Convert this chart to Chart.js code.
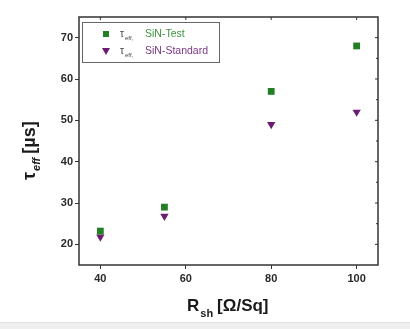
<!DOCTYPE html>
<html>
<head>
<meta charset="utf-8">
<script src="https://cdn.jsdelivr.net/npm/chart.js@4"></script>
<style>
  html, body { margin: 0; padding: 0; background: #fff; }
  #wrap { position: relative; width: 410px; height: 322px; }
  #strip { width: 410px; height: 7px; background: #efefef; border-top: 1px solid #e2e2e2; box-sizing: border-box; }
</style>
</head>
<body>
<div id="wrap"><canvas id="tauChart" width="410" height="322"></canvas></div>
<div id="strip"></div>
<script>
// Sheet resistance (Ohm/Sq)
const rsh = [40, 55, 80, 100];
// effective lifetime (us)
const tauTest = [23.2, 29, 57, 68];
const tauStandard = [21.8, 26.8, 49, 52];

const xTicks = [40, 60, 80, 100];
const yTicks = [20, 30, 40, 50, 60, 70];

const greenCol = '#237f23';
const purpleCol = '#6a1c6e';

function toPoints(xs, ys) {
    return xs.map((x, i) => ({ x: x, y: ys[i] }));
}

// frame, inner ticks on top/right, axis titles, legend
const decor = {
    id: 'decor',
    afterDraw(chart) {
        const c = chart.ctx;
        const a = chart.chartArea;
        const xs = chart.scales.x, ys = chart.scales.y;
        c.save();
        c.strokeStyle = '#333';
        c.lineWidth = 1.5;
        c.strokeRect(a.left, a.top, a.right - a.left, a.bottom - a.top);

        // small ticks on right and top
        c.lineWidth = 1;
        yTicks.forEach(v => {
            const y = ys.getPixelForValue(v);
            c.beginPath(); c.moveTo(a.right - 3, y); c.lineTo(a.right, y); c.stroke();
        });
        for (let v = 25; v < 75; v += 10) {
            const y = ys.getPixelForValue(v);
            c.beginPath(); c.moveTo(a.right - 2, y); c.lineTo(a.right, y); c.stroke();
        }
        xTicks.forEach(v => {
            const x = xs.getPixelForValue(v);
            c.beginPath(); c.moveTo(x, a.top); c.lineTo(x, a.top + 3); c.stroke();
        });

        // x title: R_sh [Ω/Sq]
        c.fillStyle = '#1a1a1a';
        c.textBaseline = 'alphabetic';
        c.textAlign = 'left';
        let x = 187, y = 311;
        c.font = 'bold 17px "Liberation Sans", Arial, sans-serif';
        c.fillText('R', x, y); x += c.measureText('R').width + 1;
        c.font = 'bold 11px "Liberation Sans", Arial, sans-serif';
        c.fillText('sh', x, y + 6); x += c.measureText('sh').width + 4;
        c.font = 'bold 17px "Liberation Sans", Arial, sans-serif';
        c.fillText('[Ω/Sq]', x, y);

        // y title: τ_eff [µs], rotated
        c.translate(35, 180);
        c.rotate(-Math.PI / 2);
        x = 0; y = 0;
        c.font = 'bold 18px "Liberation Sans", Arial, sans-serif';
        c.fillText('τ', x, y); x += c.measureText('τ').width + 1;
        c.font = 'italic bold 11px "Liberation Sans", Arial, sans-serif';
        c.fillText('eff', x, y + 5); x += c.measureText('eff').width + 4;
        c.font = 'bold 18px "Liberation Sans", Arial, sans-serif';
        c.fillText('[µs]', x, y);
        c.setTransform(1, 0, 0, 1, 0, 0);

        // legend box
        c.strokeStyle = '#666';
        c.lineWidth = 1;
        c.strokeRect(82.5, 22.5, 137, 40);
        const items = [
            { label: 'SiN-Test', color: greenCol, text: '#3c943c', shape: 'rect', y: 34 },
            { label: 'SiN-Standard', color: purpleCol, text: '#7a3584', shape: 'tri', y: 51 }
        ];
        items.forEach(it => {
            c.fillStyle = it.color;
            if (it.shape === 'rect') {
                c.fillRect(103, it.y - 3, 6, 6);
            } else {
                c.beginPath();
                c.moveTo(102, it.y - 3); c.lineTo(110, it.y - 3); c.lineTo(106, it.y + 4);
                c.closePath(); c.fill();
            }
            c.fillStyle = '#444';
            c.font = '10px "Liberation Sans", Arial, sans-serif';
            c.textBaseline = 'middle';
            c.fillText('τ', 120, it.y);
            c.font = '6px "Liberation Sans", Arial, sans-serif';
            c.fillText('eff,', 125, it.y + 4);
            c.fillStyle = it.text;
            c.font = '10.5px "Liberation Sans Narrow", "Liberation Sans", Arial, sans-serif';
            c.fillText(it.label, 145, it.y);
        });
        c.restore();
    }
};

const ctx = document.getElementById('tauChart').getContext('2d');
const chart = new Chart(ctx, {
    type: 'scatter',
    data: {
        datasets: [
            {
                label: 'τeff, SiN-Test',
                data: toPoints(rsh, tauTest),
                pointStyle: 'rect',
                pointRadius: 4.8,
                backgroundColor: greenCol,
                borderColor: greenCol,
                borderWidth: 0
            },
            {
                label: 'τeff, SiN-Standard',
                data: toPoints(rsh, tauStandard),
                pointStyle: 'triangle',
                rotation: 180,
                pointRadius: 4.8,
                backgroundColor: purpleCol,
                borderColor: purpleCol,
                borderWidth: 0
            }
        ]
    },
    options: {
        responsive: false,
        animation: false,
        layout: { padding: { left: 0, top: 17, right: 32, bottom: 0 } },
        scales: {
            x: {
                type: 'linear',
                min: 35,
                max: 105,
                afterBuildTicks: s => { s.ticks = xTicks.map(v => ({ value: v })); },
                afterFit: s => { s.height = 57; },
                grid: { drawOnChartArea: false, tickLength: 4, color: '#333' },
                border: { display: false },
                ticks: {
                    color: '#2a2a2a',
                    padding: 3,
                    font: { family: '"Liberation Sans", Arial, sans-serif', size: 11, weight: 'bold' }
                }
            },
            y: {
                min: 15,
                max: 75,
                afterBuildTicks: s => { s.ticks = yTicks.map(v => ({ value: v })); },
                afterFit: s => { s.width = 79; },
                grid: { drawOnChartArea: false, tickLength: 4, color: '#333' },
                border: { display: false },
                ticks: {
                    color: '#2a2a2a',
                    padding: 2,
                    font: { family: '"Liberation Sans", Arial, sans-serif', size: 11, weight: 'bold' }
                }
            }
        },
        plugins: {
            legend: { display: false },
            tooltip: { enabled: false }
        }
    },
    plugins: [decor]
});
</script>
</body>
</html>
